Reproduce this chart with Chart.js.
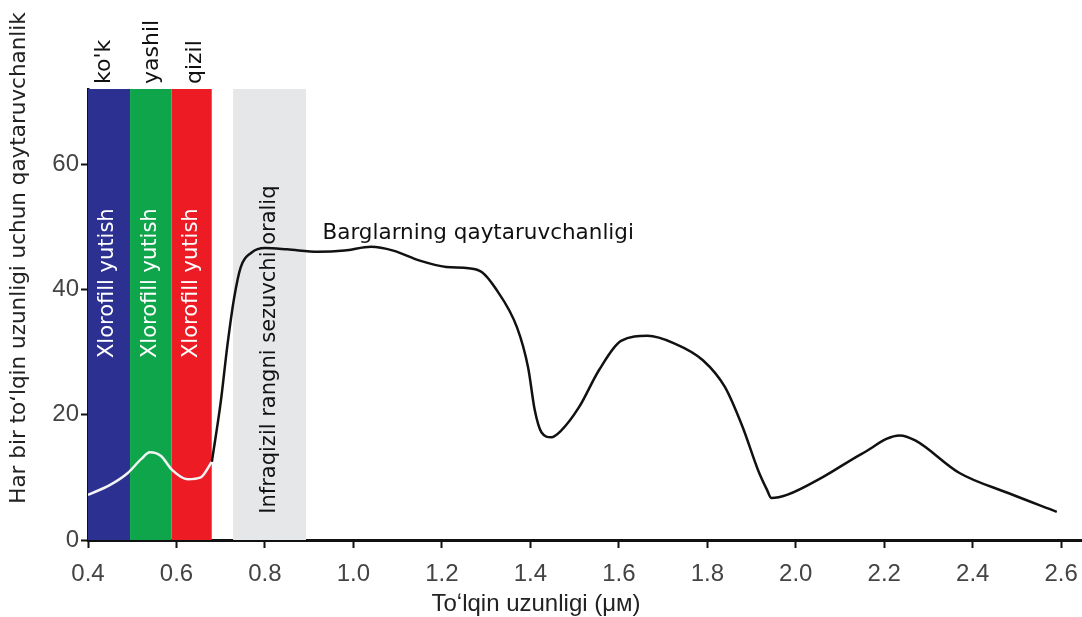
<!DOCTYPE html>
<html>
<head>
<meta charset="utf-8">
<script src="https://cdn.jsdelivr.net/npm/chart.js@4/dist/chart.umd.min.js"></script>
<style>
  html, body { margin: 0; padding: 0; background: #fff; }
  #wrap { width: 1082px; height: 617px; }
</style>
</head>
<body>
<div id="wrap"><canvas id="chart" width="1082" height="617"></canvas></div>
<script>
// Ma'lumotlar
const xTicks = [0.4, 0.6, 0.8, 1.0, 1.2, 1.4, 1.6, 1.8, 2.0, 2.2, 2.4, 2.6]
const yTicks = [0, 20, 40, 60]

// oq chiziq (rang polosalari ichida)
const whiteX = [0.40, 0.45, 0.49, 0.52, 0.54, 0.565, 0.59, 0.625, 0.655, 0.68]
const whiteY = [7.2, 8.8, 10.7, 12.9, 14.0, 13.4, 11.2, 9.7, 10.0, 12.5]

// qora chiziq - barglarning qaytaruvchanligi
const blackX = [0.68, 0.70, 0.715, 0.73, 0.745, 0.77, 0.80, 0.85, 0.92, 0.98, 1.04, 1.09, 1.15, 1.21, 1.26, 1.29,
  1.32, 1.37, 1.395, 1.41, 1.425, 1.447, 1.47, 1.51, 1.555, 1.605, 1.665, 1.725, 1.79, 1.84, 1.88, 1.915,
  1.935, 1.945, 1.98, 2.06, 2.15, 2.235, 2.27, 2.37, 2.48, 2.59]
const blackY = [12.5, 22, 31, 38.5, 43.5, 45.9, 46.6, 46.4, 46.0, 46.2, 46.8, 46.2, 44.6, 43.6, 43.4, 42.8,
  40.3, 33.9, 27.5, 20.7, 17.2, 16.4, 17.5, 21.2, 27.1, 31.8, 32.6, 31.4, 28.7, 24.4, 18.0, 11.1,
  8.0, 6.7, 7.2, 10.0, 13.8, 16.7, 15.9, 10.7, 7.5, 4.5]

// polosalar
const bandStart = [0.395, 0.495, 0.588, 0.728]
const bandEnd = [0.495, 0.588, 0.68, 0.893]
const bandTop = 72
const bandColors = ["#2b3091", "#0fa64b", "#ed1c24", "#e6e7e9"]
const bandNames = ["ko'k", "yashil", "qizil"]
const bandNameX = [0.436, 0.545, 0.643]

const toPoints = (xs, ys) => xs.map((x, i) => ({ x: x, y: ys[i] }))

const datasets = [
  {
    data: toPoints(blackX, blackY),
    borderColor: "#111",
    borderWidth: 2.5,
    pointRadius: 0,
    cubicInterpolationMode: "monotone",
    fill: false,
  },
  {
    data: toPoints(whiteX, whiteY),
    borderColor: "#f4f4f4",
    borderWidth: 2.5,
    pointRadius: 0,
    cubicInterpolationMode: "monotone",
    fill: false,
  },
]
bandStart.forEach((s, i) => {
  datasets.push({
    data: [{ x: s, y: bandTop }, { x: bandEnd[i], y: bandTop }],
    borderWidth: 0,
    borderColor: "rgba(0,0,0,0)",
    backgroundColor: bandColors[i],
    pointRadius: 0,
    fill: "origin",
  })
})
const grayIndex = datasets.length - 1

function vText(ctx, text, x, y, align) {
  ctx.save()
  ctx.translate(x, y)
  ctx.rotate(-Math.PI / 2)
  ctx.textAlign = align
  ctx.textBaseline = "middle"
  ctx.fillText(text, 0, 0)
  ctx.restore()
}

const textPlugin = {
  id: "texts",
  afterDatasetDraw(chart, args) {
    if (args.index !== grayIndex) return
    const { ctx, scales } = chart
    ctx.fillStyle = "#111"
    ctx.font = "21px 'DejaVu Sans'"
    vText(ctx, "Infraqizil rangni sezuvchi oraliq", scales.x.getPixelForValue(0.81), scales.y.getPixelForValue(30.4), "center")
  },
  afterDatasetsDraw(chart) {
    const { ctx, scales } = chart
    const x = scales.x
    const y = scales.y

    // polosalar ichidagi yozuvlar
    ctx.fillStyle = "#fff"
    ctx.font = "21px 'DejaVu Sans'"
    for (let i = 0; i < 3; i++) {
      const cx = x.getPixelForValue((bandStart[i] + bandEnd[i]) / 2)
      vText(ctx, "Xlorofill yutish", cx, y.getPixelForValue(41), "center")
    }

    // rang nomlari
    ctx.fillStyle = "#111"
    ctx.font = "22px 'DejaVu Sans'"
    bandNames.forEach((name, i) => {
      vText(ctx, name, x.getPixelForValue(bandNameX[i]), y.getPixelForValue(bandTop) - 5, "left")
    })

    ctx.font = "21.5px 'DejaVu Sans'"
    ctx.textAlign = "left"
    ctx.textBaseline = "middle"
    ctx.fillText("Barglarning qaytaruvchanligi", x.getPixelForValue(0.93), y.getPixelForValue(49))

    // o'q nomlari
    ctx.fillStyle = "#222"
    ctx.font = "21.5px 'DejaVu Sans'"
    vText(ctx, "Har bir to\u02bblqin uzunligi uchun qaytaruvchanlik", 19, 258, "center")

    ctx.font = "24px 'Liberation Sans Narrow', 'Liberation Sans', sans-serif"
    ctx.textAlign = "center"
    ctx.textBaseline = "middle"
    ctx.fillText("To\u02bblqin uzunligi (\u03bc\u043c)", 536, 604)
  },
}

const ctx = document.getElementById("chart").getContext("2d")
new Chart(ctx, {
  type: "line",
  data: { datasets: datasets },
  plugins: [textPlugin],
  options: {
    responsive: false,
    animation: false,
    layout: { padding: { top: 89, right: 0, left: 0, bottom: 0 } },
    plugins: {
      legend: { display: false },
      tooltip: { enabled: false },
    },
    scales: {
      x: {
        type: "linear",
        min: 0.4,
        max: 2.647,
        afterBuildTicks: (scale) => {
          scale.ticks = xTicks.map((v) => ({ value: v }))
        },
        afterFit: (scale) => {
          scale.height = 77
          scale.paddingRight = 0
          scale.paddingLeft = 0
        },
        border: { display: true, color: "#111", width: 3 },
        grid: { drawOnChartArea: false, color: "#111", tickLength: 8, tickWidth: 2 },
        ticks: {
          color: "#444",
          padding: 12,
          font: { size: 24, family: "'Liberation Sans Narrow', 'Liberation Sans', sans-serif" },
          callback: (v) => v.toFixed(1),
          maxRotation: 0,
        },
      },
      y: {
        min: 0,
        max: bandTop,
        afterBuildTicks: (scale) => {
          scale.ticks = yTicks.map((v) => ({ value: v }))
        },
        afterFit: (scale) => {
          scale.width = 88
          scale.paddingTop = 0
          scale.paddingBottom = 0
        },
        border: { display: true, color: "#111", width: 2.5 },
        grid: { drawOnChartArea: false, color: "#111", tickLength: 7, tickWidth: 2 },
        ticks: {
          color: "#444",
          padding: 2,
          font: { size: 24, family: "'Liberation Sans Narrow', 'Liberation Sans', sans-serif" },
        },
      },
    },
  },
})
</script>
</body>
</html>
